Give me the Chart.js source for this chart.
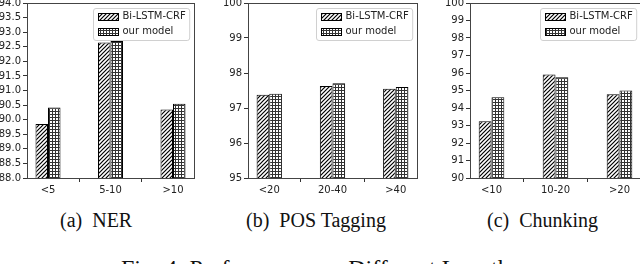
<!DOCTYPE html>
<html>
<head>
<meta charset="utf-8">
<script src="https://cdn.jsdelivr.net/npm/chart.js@4.4.1/dist/chart.umd.min.js"></script>
<style>
  html, body { margin: 0; padding: 0; background: #fff; }
  body { width: 640px; height: 264px; overflow: hidden; position: relative; }
  canvas { position: absolute; top: 0; }
  .sub { position: absolute; top: 210px; font: 20px "Liberation Serif", "Times New Roman", serif; line-height: 20px; white-space: pre; color: #111; }
  .cap { position: absolute; top: 256px; left: 0; width: 640px; text-align: center; font: 24px "Liberation Serif", "Times New Roman", serif; line-height: 24px; white-space: pre; color: #111; }
</style>
</head>
<body>
<canvas id="c1" width="219" height="200" style="left:-20px"></canvas>
<canvas id="c2" width="222" height="200" style="left:200px"></canvas>
<canvas id="c3" width="223" height="200" style="left:420px"></canvas>
<div class="sub" style="left:60px">(a)  NER</div>
<div class="sub" style="left:246px">(b)  POS Tagging</div>
<div class="sub" style="left:487px">(c)  Chunking</div>
<div class="cap">Fig. 4: Performance on Different Lengths</div>
<script>
// ---- data ----
const seriesNames = ['Bi-LSTM-CRF', 'our model'];

const nerCats = ['<5', '5-10', '>10'];
const nerBiLstm = [89.85, 92.65, 90.35];
const nerOurs = [90.42, 92.70, 90.55];
const nerTicks = { min: 88, max: 94, step: 0.5, decimals: 1 };

const posCats = ['<20', '20-40', '>40'];
const posBiLstm = [97.38, 97.63, 97.55];
const posOurs = [97.41, 97.71, 97.60];
const posTicks = { min: 95, max: 100, step: 1, decimals: 0 };

const chunkCats = ['<10', '10-20', '>20'];
const chunkBiLstm = [93.25, 95.92, 94.78];
const chunkOurs = [94.62, 95.76, 95.00];
const chunkTicks = { min: 90, max: 100, step: 1, decimals: 0 };

// ---- patterns ----
function hatchPattern() {
  const s = 4;
  const c = document.createElement('canvas');
  c.width = s; c.height = s;
  const g = c.getContext('2d');
  g.fillStyle = '#fff'; g.fillRect(0, 0, s, s);
  g.strokeStyle = '#000'; g.lineWidth = 1.2;
  g.beginPath();
  g.moveTo(-1, s + 1); g.lineTo(s + 1, -1);
  g.moveTo(-1, 1); g.lineTo(1, -1);
  g.moveTo(s - 1, s + 1); g.lineTo(s + 1, s - 1);
  g.stroke();
  return g.createPattern(c, 'repeat');
}
function dotPattern() {
  const s = 3;
  const c = document.createElement('canvas');
  c.width = s; c.height = s;
  const g = c.getContext('2d');
  g.fillStyle = '#fff'; g.fillRect(0, 0, s, s);
  g.fillStyle = '#333';
  g.fillRect(0, 0, s, 1);
  g.fillRect(0, 0, 1, s);
  return g.createPattern(c, 'repeat');
}
const hatch = hatchPattern();
const dots = dotPattern();

Chart.defaults.font.family = '"DejaVu Sans", sans-serif';
Chart.defaults.font.size = 10;
Chart.defaults.color = '#222';

const spines = {
  id: 'spines',
  afterDatasetsDraw(chart) {
    const { ctx, chartArea: a } = chart;
    ctx.save();
    ctx.strokeStyle = '#444';
    ctx.lineWidth = 1;
    const l = Math.round(a.left) + 0.5, r = Math.round(a.right) + 0.5;
    const t = Math.round(a.top) + 0.5, b = Math.round(a.bottom) + 0.5;
    ctx.strokeRect(l, t, r - l, b - t);
    ctx.restore();
  }
};

const boxLegend = {
  id: 'boxLegend',
  afterDatasetsDraw(chart) {
    const { ctx, chartArea: a } = chart;
    const ds = chart.data.datasets;
    ctx.save();
    ctx.font = '10px "DejaVu Sans", sans-serif';
    const tw = Math.max(...ds.map(d => ctx.measureText(d.label).width));
    const pad = 4, patchW = 20, patchH = 7, gap = 5, rowH = 15;
    const w = pad + patchW + gap + tw + pad;
    const h = 8 + rowH * (ds.length - 1) + 9;
    const x = Math.round(a.right - 5 - w) + 0.5, y = Math.round(a.top + 5) + 0.5;
    ctx.beginPath();
    ctx.roundRect(x, y, w, h, 2.5);
    ctx.fillStyle = 'rgba(255,255,255,0.85)';
    ctx.fill();
    ctx.strokeStyle = '#d0d0d0';
    ctx.lineWidth = 1;
    ctx.stroke();
    ds.forEach((d, i) => {
      const cy = y + 8 + i * rowH;
      const px = Math.round(x + pad) + 0.5, py = Math.round(cy - patchH / 2) + 0.5;
      ctx.fillStyle = d.backgroundColor;
      ctx.fillRect(px, py, patchW, patchH);
      ctx.strokeStyle = '#000';
      ctx.strokeRect(px, py, patchW, patchH);
      ctx.fillStyle = '#222';
      ctx.textBaseline = 'middle';
      ctx.textAlign = 'left';
      ctx.fillText(d.label, x + pad + patchW + gap, cy);
    });
    ctx.restore();
  }
};

function makeChart(id, cats, bi, ours, yt, yAxisWidth, padRight) {
  new Chart(document.getElementById(id), {
    type: 'bar',
    data: {
      datasets: [
        { label: seriesNames[0], data: cats.map((c, i) => ({ x: i, y: bi[i] })),
          backgroundColor: hatch, borderColor: '#000', borderWidth: 1 },
        { label: seriesNames[1], data: cats.map((c, i) => ({ x: i, y: ours[i] })),
          backgroundColor: dots, borderColor: '#000', borderWidth: 1 }
      ]
    },
    options: {
      responsive: false,
      animation: false,
      devicePixelRatio: 1,
      categoryPercentage: 0.4,
      barPercentage: 1,
      layout: { padding: { top: 3, left: 0, right: padRight, bottom: 0 } },
      plugins: { legend: { display: false }, tooltip: { enabled: false } },
      scales: {
        x: {
          type: 'linear',
          min: -0.336, max: (cats.length - 1) + 0.336,
          offset: false,
          grid: { display: true, drawOnChartArea: false, drawTicks: true, tickLength: 4, color: '#333' },
          border: { display: false },
          afterBuildTicks: (s) => { s.ticks = cats.map((c, i) => ({ value: i })); },
          ticks: { padding: 2, maxRotation: 0, autoSkip: false, callback: (v) => cats[v] },
          afterFit: (s) => { s.height = 22; s.paddingLeft = 0; s.paddingRight = 0; }
        },
        y: {
          min: yt.min, max: yt.max,
          grid: { display: true, drawOnChartArea: false, drawTicks: true, tickLength: 4, color: '#333' },
          border: { display: false },
          ticks: { stepSize: yt.step, padding: 2, autoSkip: false, callback: (v) => Number(v).toFixed(yt.decimals) },
          afterFit: (s) => { s.width = yAxisWidth; s.paddingTop = 0; s.paddingBottom = 0; }
        }
      }
    },
    plugins: [spines, boxLegend]
  });
}

makeChart('c1', nerCats, nerBiLstm, nerOurs, nerTicks, 47, 5);
makeChart('c2', posCats, posBiLstm, posOurs, posTicks, 48, 5);
makeChart('c3', chunkCats, chunkBiLstm, chunkOurs, chunkTicks, 50, 2);
</script>
</body>
</html>
